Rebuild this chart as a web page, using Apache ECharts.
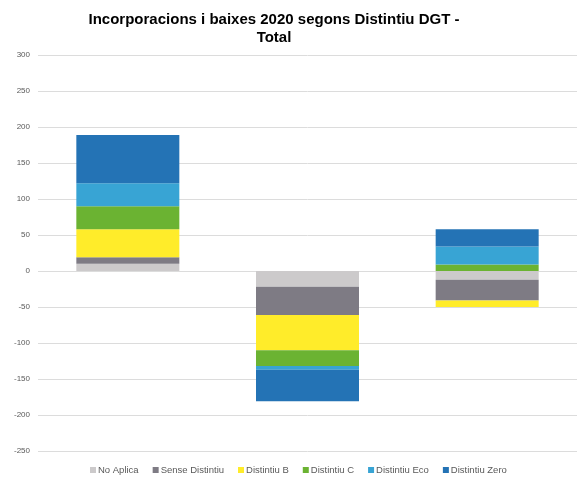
<!DOCTYPE html>
<html>
<head>
<meta charset="utf-8">
<script src="https://cdn.jsdelivr.net/npm/echarts@6/dist/echarts.min.js"></script>
<style>
  html, body { margin: 0; padding: 0; background: #fff; }
  #chart { width: 577px; height: 477px; }
</style>
</head>
<body>
<div id="chart"></div>
<script>
// categories (no labels shown on the axis)
const categories = ['Incorporacions', 'Baixes', 'Total'];
const seriesNames = ['No Aplica', 'Sense Distintiu', 'Distintiu B', 'Distintiu C', 'Distintiu Eco', 'Distintiu Zero'];
const noAplica = [10, -22, -12];
const senseDistintiu = [9, -39, -29];
const distintiuB = [39, -49, -9];
const distintiuC = [32, -22, 9];
const distintiuEco = [32, -5, 25];
const distintiuZero = [67, -44, 24];
const colors = ['#cccacb', '#7e7b84', '#ffec2a', '#6bb332', '#38a4d4', '#2473b5'];

let chart = echarts.init(document.getElementById('chart'));
let values = [noAplica, senseDistintiu, distintiuB, distintiuC, distintiuEco, distintiuZero];

let option = {
  animation: false,
  color: colors,
  title: {
    text: 'Incorporacions i baixes 2020 segons Distintiu DGT -\nTotal',
    left: 269,
    textAlign: 'center',
    top: 6,
    textStyle: {
      fontFamily: 'Liberation Sans',
      fontSize: 15,
      fontWeight: 'bold',
      color: '#000',
      lineHeight: 18
    }
  },
  legend: {
    bottom: -3,
    left: 85,
    itemWidth: 6,
    itemHeight: 6,
    itemGap: 14,
    icon: 'rect',
    textStyle: {
      fontFamily: 'Liberation Sans',
      fontSize: 9.5,
      color: '#595959',
      padding: [0, 0, 0, -3]
    },
    data: seriesNames
  },
  grid: {
    left: 38,
    right: -2,
    top: 55,
    bottom: 26
  },
  xAxis: {
    type: 'category',
    data: categories,
    axisLine: { show: false },
    axisTick: { show: false },
    axisLabel: { show: false }
  },
  yAxis: {
    type: 'value',
    min: -250,
    max: 300,
    interval: 50,
    axisLine: { show: false },
    axisTick: { show: false },
    axisLabel: {
      fontFamily: 'Liberation Sans',
      fontSize: 8,
      color: '#595959',
      margin: 8
    },
    splitLine: { lineStyle: { color: '#dcdcdc', width: 1 } }
  },
  series: seriesNames.map((n, i) => ({
    name: n,
    type: 'bar',
    stack: 'total',
    barWidth: 103,
    data: values[i]
  }))
};
chart.setOption(option);
</script>
</body>
</html>
